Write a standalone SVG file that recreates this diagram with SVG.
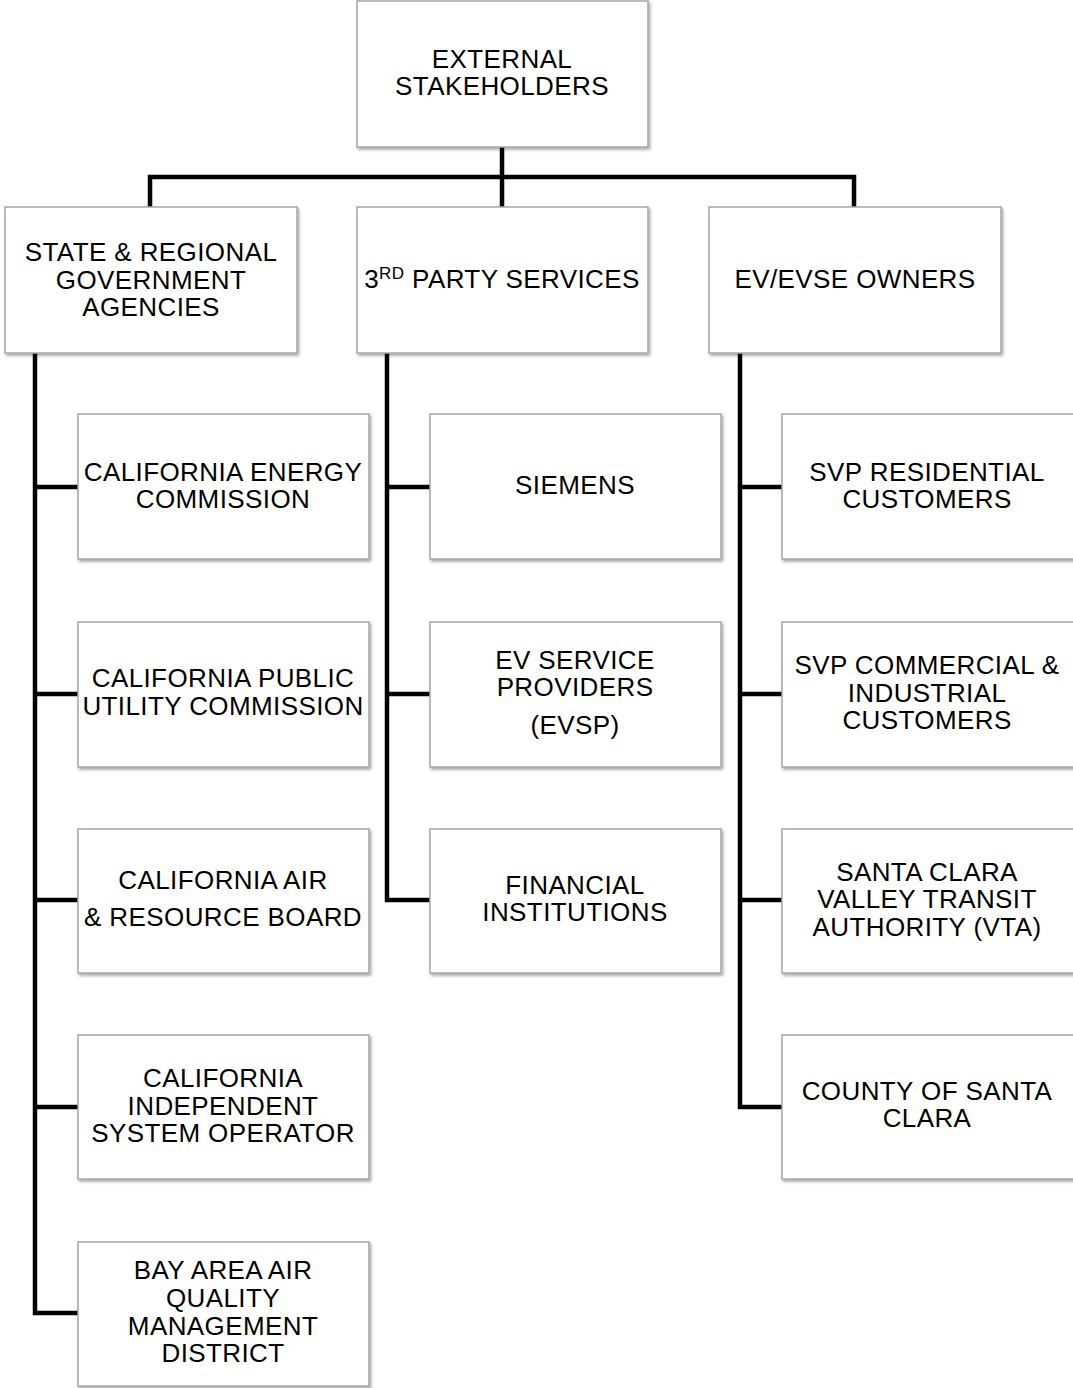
<svg xmlns="http://www.w3.org/2000/svg" width="1073" height="1388" viewBox="0 0 1073 1388">
<style>
.box{fill:#fff;stroke:#a6a6a6;stroke-width:1.5;filter:url(#sh)}
.t{font-family:"Liberation Sans",Arial,sans-serif;font-size:26px;letter-spacing:0.4px;fill:#000;text-anchor:middle}
.c{stroke:#000;stroke-width:4.5;fill:none}
</style>
<defs>
<filter id="sh" x="-5%" y="-5%" width="112%" height="115%">
<feDropShadow dx="1.5" dy="2" stdDeviation="1.5" flood-color="#000" flood-opacity="0.35"/>
</filter>
</defs>
<rect width="1073" height="1388" fill="#fff"/>
<g id="connectors">
<path class="c" d="M502 147V207M150 207V177H854V207"/>
<path class="c" d="M35 353V1313H78M35 487H78M35 694H78M35 900H78M35 1107H78"/>
<path class="c" d="M387 353V900H430M387 487H430M387 694H430"/>
<path class="c" d="M740 353V1107H782M740 487H782M740 694H782M740 900H782"/>
</g>
<g id="n-external"><rect class="box" x="357" y="1" width="291" height="146"/>
<text class="t" x="502" y="68">EXTERNAL</text><text class="t" x="502" y="95">STAKEHOLDERS</text></g>
<g id="n-state"><rect class="box" x="5" y="207" width="292" height="146"/>
<text class="t" x="151" y="261">STATE &amp; REGIONAL</text><text class="t" x="151" y="289">GOVERNMENT</text><text class="t" x="151" y="316">AGENCIES</text></g>
<g id="n-3rd"><rect class="box" x="357" y="207" width="291" height="146"/>
<text class="t" x="502" y="288">3<tspan font-size="17" dy="-9">RD</tspan><tspan dy="9"> PARTY SERVICES</tspan></text></g>
<g id="n-ev"><rect class="box" x="709" y="207" width="292" height="146"/>
<text class="t" x="855" y="288">EV/EVSE OWNERS</text></g>
<g id="n-cec"><rect class="box" x="78" y="414" width="291" height="145"/>
<text class="t" x="223" y="481">CALIFORNIA ENERGY</text><text class="t" x="223" y="508">COMMISSION</text></g>
<g id="n-cpuc"><rect class="box" x="78" y="622" width="291" height="145"/>
<text class="t" x="223" y="687">CALIFORNIA PUBLIC</text><text class="t" x="223" y="715">UTILITY COMMISSION</text></g>
<g id="n-carb"><rect class="box" x="78" y="829" width="291" height="144"/>
<text class="t" x="223" y="889">CALIFORNIA AIR</text><text class="t" x="223" y="926">&amp; RESOURCE BOARD</text></g>
<g id="n-caiso"><rect class="box" x="78" y="1035" width="291" height="144"/>
<text class="t" x="223" y="1087">CALIFORNIA</text><text class="t" x="223" y="1115">INDEPENDENT</text><text class="t" x="223" y="1142">SYSTEM OPERATOR</text></g>
<g id="n-baaqmd"><rect class="box" x="78" y="1242" width="291" height="144"/>
<text class="t" x="223" y="1279">BAY AREA AIR</text><text class="t" x="223" y="1307">QUALITY</text><text class="t" x="223" y="1335">MANAGEMENT</text><text class="t" x="223" y="1362">DISTRICT</text></g>
<g id="n-siemens"><rect class="box" x="430" y="414" width="291" height="145"/>
<text class="t" x="575" y="494">SIEMENS</text></g>
<g id="n-evsp"><rect class="box" x="430" y="622" width="291" height="145"/>
<text class="t" x="575" y="669">EV SERVICE</text><text class="t" x="575" y="696">PROVIDERS</text><text class="t" x="575" y="734">(EVSP)</text></g>
<g id="n-fin"><rect class="box" x="430" y="829" width="291" height="144"/>
<text class="t" x="575" y="894">FINANCIAL</text><text class="t" x="575" y="921">INSTITUTIONS</text></g>
<g id="n-svpres"><rect class="box" x="782" y="414" width="292" height="145"/>
<text class="t" x="927" y="481">SVP RESIDENTIAL</text><text class="t" x="927" y="508">CUSTOMERS</text></g>
<g id="n-svpcom"><rect class="box" x="782" y="622" width="292" height="145"/>
<text class="t" x="927" y="674">SVP COMMERCIAL &amp;</text><text class="t" x="927" y="702">INDUSTRIAL</text><text class="t" x="927" y="729">CUSTOMERS</text></g>
<g id="n-vta"><rect class="box" x="782" y="829" width="292" height="144"/>
<text class="t" x="927" y="881">SANTA CLARA</text><text class="t" x="927" y="908">VALLEY TRANSIT</text><text class="t" x="927" y="936">AUTHORITY (VTA)</text></g>
<g id="n-county"><rect class="box" x="782" y="1035" width="292" height="144"/>
<text class="t" x="927" y="1100">COUNTY OF SANTA</text><text class="t" x="927" y="1127">CLARA</text></g>
</svg>
